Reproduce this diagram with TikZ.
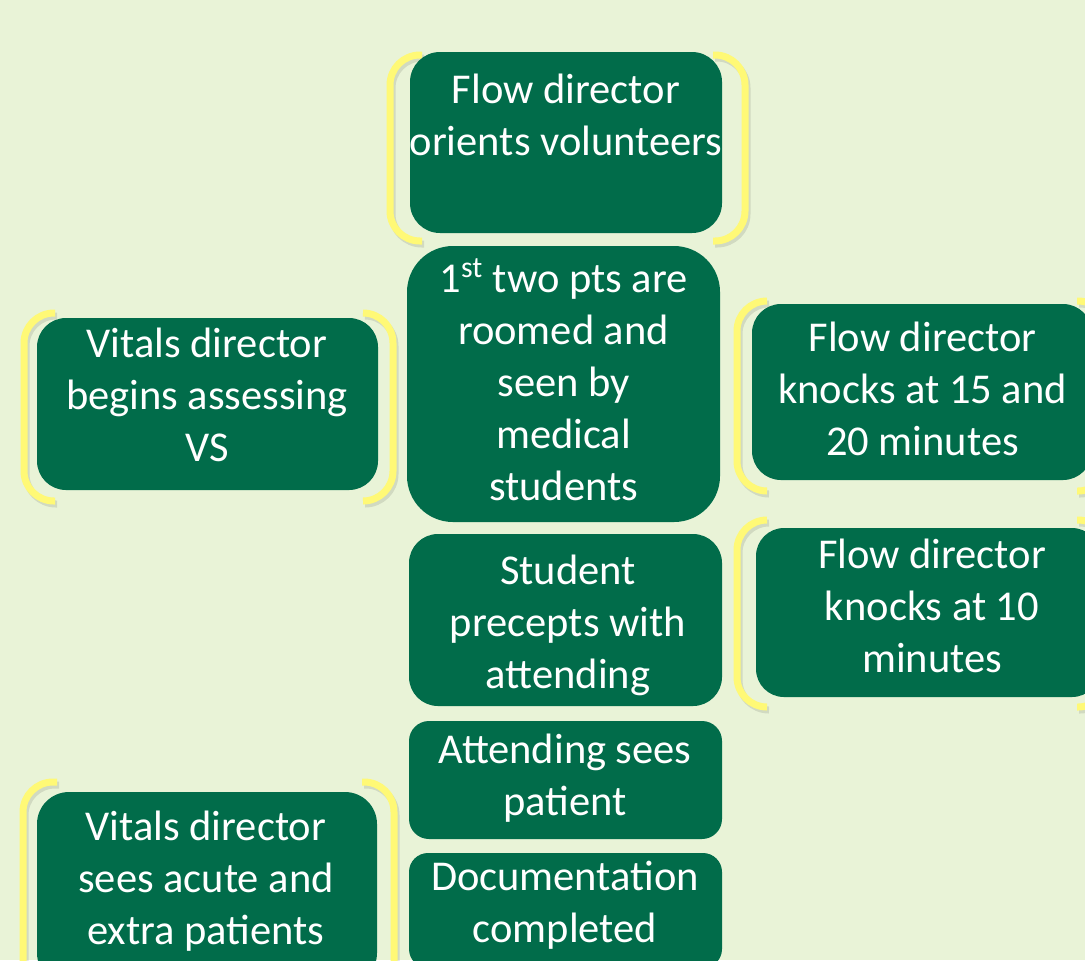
\documentclass[tikz,border=0pt]{standalone}
\usepackage{fontspec}
\setmainfont{Carlito}
\definecolor{bg}{RGB}{233,243,215}
\definecolor{boxgreen}{RGB}{1,108,74}
\definecolor{bracketyellow}{RGB}{255,249,118}

\begin{document}
\begin{tikzpicture}[x=0.5pt,y=-0.5pt,
  stepbox/.style={fill=boxgreen, draw=none, inner sep=0pt},
  steptext/.style={text=white, align=center, inner sep=0pt,
    font=\fontsize{21.25pt}{26pt}\selectfont,
    execute at begin node=\strut, execute at end node=\strut},
  bracket/.style={draw=bracketyellow, line width=3.5pt, rounded corners=15pt},
  bracketshadow/.style={draw=black, draw opacity=0.10, line width=3.5pt,
    rounded corners=15pt, shift={(2,3)}}
]
\useasboundingbox (0,0) rectangle (1085,960);
\clip (0,0) rectangle (1085,960);
\fill[bg] (0,0) rectangle (1085,960);

% yellow brackets around the grouped steps
\foreach \a/\b/\c/\d in {
    422/390/55/241, 713/745/55/241,
    55/24/313/501, 363/393/313/501,
    57/23/782/1010, 362/394/782/1010,
    767/737/301/491, 1077/1108/301/491,
    767/737/520/707, 1077/1108/520/707}{
  \draw[bracketshadow] (\a,\c) -- (\b,\c) -- (\b,\d) -- (\a,\d);
  \draw[bracket] (\a,\c) -- (\b,\c) -- (\b,\d) -- (\a,\d);
}

% step boxes
\node[stepbox, minimum width=156pt, minimum height=90.5pt, rounded corners=15pt] (orient) at (566,142.5) {};
\node[stepbox, minimum width=156.5pt, minimum height=138pt, rounded corners=23pt] (roomed) at (563.5,384) {};
\node[stepbox, minimum width=156.5pt, minimum height=86pt, rounded corners=14.5pt] (precept) at (565.5,620) {};
\node[stepbox, minimum width=156.5pt, minimum height=59pt, rounded corners=10pt] (attending) at (565.5,780) {};
\node[stepbox, minimum width=156.5pt, minimum height=57.5pt, rounded corners=9.5pt] (docs) at (565.5,910.5) {};
\node[stepbox, minimum width=170.5pt, minimum height=86pt, rounded corners=14.5pt] (vitals) at (207.5,404) {};
\node[stepbox, minimum width=170pt, minimum height=96.5pt, rounded corners=16pt] (acute) at (207,888.5) {};
\node[stepbox, minimum width=170pt, minimum height=88pt, rounded corners=14.5pt] (knockA) at (922,392) {};
\node[stepbox, minimum width=172pt, minimum height=84.5pt, rounded corners=14pt] (knockB) at (928,612.5) {};

% step labels
\node[steptext] (orientText) at (566,122.6) {Flow director\\orients volunteers};
\node[steptext] (roomedText) at (563.5,387.6) {1\textsuperscript{st} two pts are\\roomed and\\seen by\\medical\\students};
\node[steptext] (preceptText) at (568,629.6) {Student\\precepts with\\attending};
\node[steptext] (attendingText) at (565,782.6) {Attending sees\\patient};
\node[steptext] (docsText) at (565,909.6) {Documentation\\completed};
\node[steptext] (vitalsText) at (207,402.6) {Vitals director\\begins assessing\\VS};
\node[steptext] (acuteText) at (206,886) {Vitals director\\sees acute and\\extra patients};
\node[steptext] (knockAText) at (922.5,397) {Flow director\\knocks at 15 and\\20 minutes};
\node[steptext] (knockBText) at (932,613.6) {Flow director\\knocks at 10\\minutes};
\end{tikzpicture}
\end{document}
